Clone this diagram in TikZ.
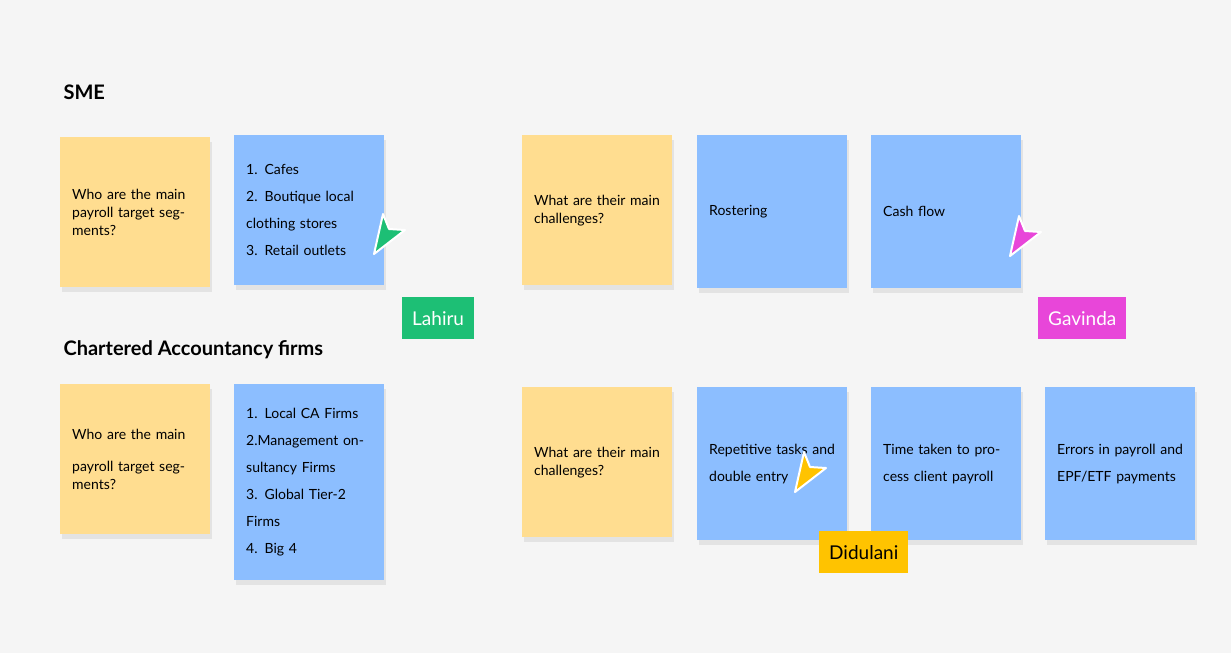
\documentclass[tikz,border=0pt]{standalone}
\usepackage{fontspec}
\setmainfont{Lato}
\usetikzlibrary{positioning}
\definecolor{bgcol}{HTML}{F5F5F5}
\definecolor{notey}{HTML}{FFDD90}
\definecolor{noteb}{HTML}{8CBEFF}
\definecolor{curg}{HTML}{1DBF75}
\definecolor{curm}{HTML}{E846D9}
\definecolor{curyel}{HTML}{FFC300}
\tikzset{
  note/.style={anchor=north west,minimum width=150pt,text width=126pt,inner xsep=12pt,
    inner ysep=14pt,align=left,font=\fontsize{14}{18}\selectfont,
    preaction={fill=black,opacity=0.07,transform canvas={xshift=2pt,yshift=-5pt}}},
  ynote/.style={note,fill=notey,minimum height=150pt},
  bnote/.style={note,fill=noteb,font=\fontsize{14}{27}\selectfont,inner ysep=12pt},
  heading/.style={anchor=west,font=\fontsize{20}{24}\selectfont\bfseries},
  tag/.style={anchor=north west,minimum height=42pt,inner xsep=10pt,text=black,
    font=\fontsize{19}{22}\selectfont},
  pics/cursor/.style={code={
    \fill[#1,draw=white,line width=2pt,line join=round]
      (0,0) -- (31,-24) -- (15,-25) -- (9,-40) -- cycle;}}
}
\begin{document}
\begin{tikzpicture}[x=1pt,y=-1pt]
\fill[bgcol] (0,0) rectangle (1231,653);
\useasboundingbox (0,0) rectangle (1231,653);
% SME
\node[heading] (sme) at (60,92) {SME};
\node[ynote] (smeq) at (60,137) {Who are the main payroll target segments?};
\node[bnote,minimum height=150pt] (smea) at (234,135) {1. Cafes\\2. Boutique local clothing stores\\3. Retail outlets};
\node[ynote] (smec) at (522,135) {What are their main challenges?};
\node[bnote,minimum height=153pt] (smer) at (697,135) {Rostering};
\node[bnote,minimum height=153pt] (smecf) at (871,135) {Cash flow};
% CA firms
\node[heading] (ca) at (60,350) {Chartered Accountancy firms};
\node[ynote,text width=126pt] (caq) at (60,384) {\vspace{14pt}Who are the main payroll target segments?};
\node[bnote,minimum height=196pt] (caa) at (234,384) {1. Local CA Firms\\2.Management onsultancy Firms\\3. Global Tier-2 Firms\\4. Big 4};
\node[ynote] (cac) at (522,387) {What are their main challenges?};
\node[bnote,minimum height=153pt] (cart) at (697,387) {Repetitive tasks and double entry};
\node[bnote,minimum height=153pt] (catt) at (871,387) {Time taken to process client payroll};
\node[bnote,minimum height=153pt] (caerr) at (1045,387) {Errors in payroll and EPF/ETF payments};
% cursors
\pic at (374,254) {cursor=curg};
\node[tag,fill=curg,text=white] (lahiru) at (402,297) {Lahiru};
\pic at (1010,256) {cursor=curm};
\node[tag,fill=curm,text=white] (gavinda) at (1038,297) {Gavinda};
\pic at (795,492) {cursor=curyel};
\node[tag,fill=curyel] (didulani) at (819,531) {Didulani};
\end{tikzpicture}
\end{document}
